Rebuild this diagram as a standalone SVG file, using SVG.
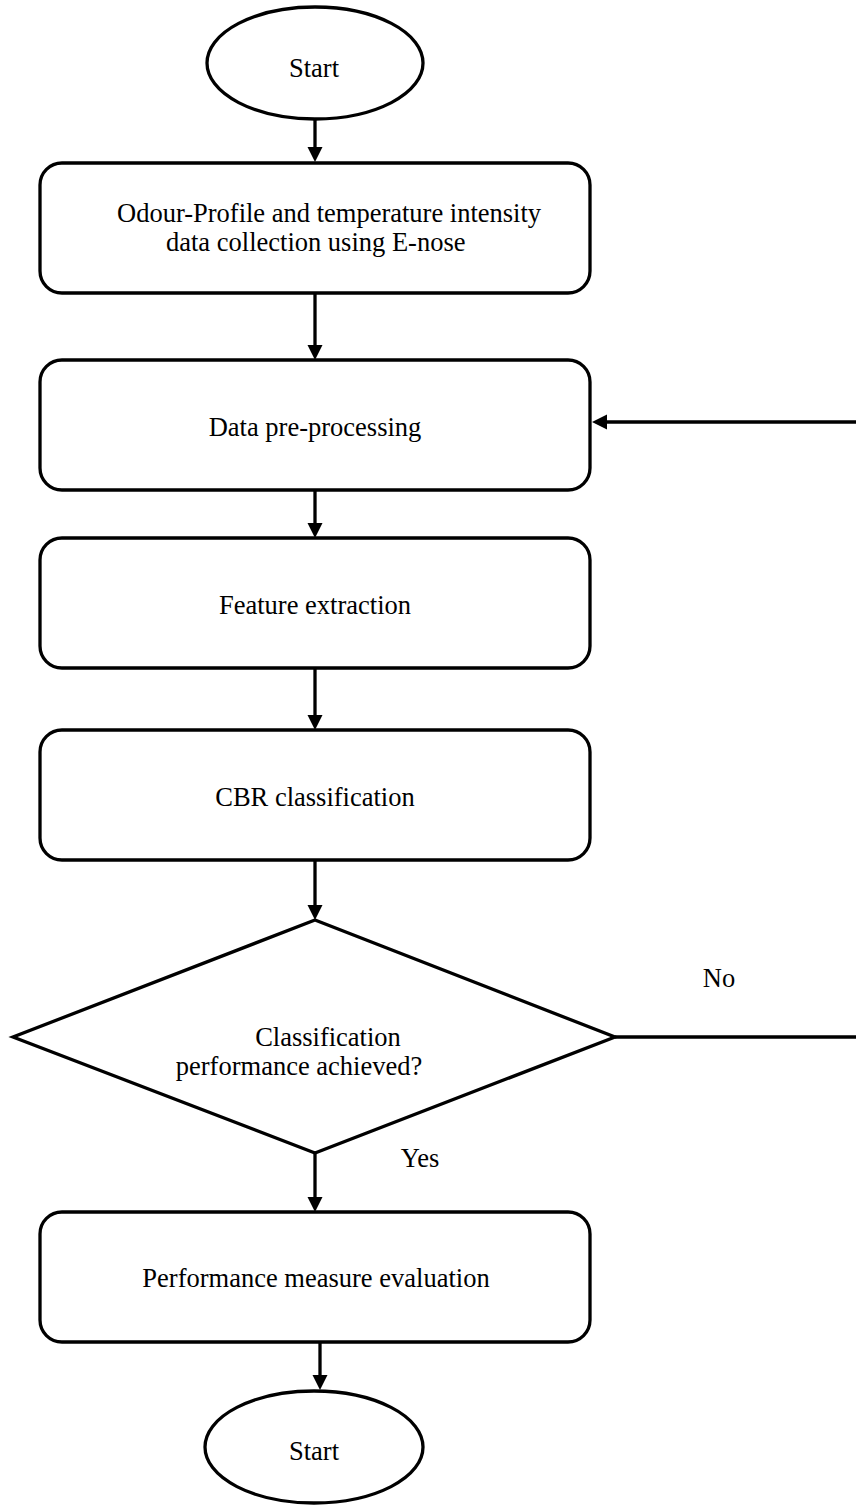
<svg xmlns="http://www.w3.org/2000/svg" width="856" height="1505" viewBox="0 0 856 1505">
  <style>
    .shape { fill: #ffffff; stroke: #000000; stroke-width: 3.3; }
    .conn { fill: none; stroke: #000000; stroke-width: 3.3; }
    .lbl { font-family: "Liberation Serif", "Times New Roman", serif; font-size: 26.5px; fill: #000000; }
    .mid { text-anchor: middle; }
  </style>
  <defs>
    <marker id="arrow" markerUnits="userSpaceOnUse" markerWidth="16" markerHeight="16" refX="10" refY="7.5" orient="auto">
      <path d="M0,0 L15,7.5 L0,15 Z" fill="#000000"/>
    </marker>
  </defs>
  <rect width="856" height="1505" fill="#ffffff"/>

  <g id="connectors">
    <path class="conn" d="M315,120 V157" marker-end="url(#arrow)"/>
    <path class="conn" d="M315,293 V355" marker-end="url(#arrow)"/>
    <path class="conn" d="M315,490 V533" marker-end="url(#arrow)"/>
    <path class="conn" d="M315,668 V725" marker-end="url(#arrow)"/>
    <path class="conn" d="M315,860 V915" marker-end="url(#arrow)"/>
    <path class="conn" d="M315,1153 V1207" marker-end="url(#arrow)"/>
    <path class="conn" d="M320,1340 V1385" marker-end="url(#arrow)"/>
    <path class="conn" d="M615,1037 H860 V422 H597" marker-end="url(#arrow)"/>
  </g>

  <g id="start">
    <ellipse class="shape" cx="315" cy="63" rx="108" ry="56"/>
    <text class="lbl mid" x="314" y="77">Start</text>
  </g>

  <g id="collect">
    <rect class="shape" x="40" y="163" width="550" height="130" rx="22"/>
    <text class="lbl" x="117" y="222">Odour-Profile and temperature intensity</text>
    <text class="lbl" x="166" y="251">data collection using E-nose</text>
  </g>

  <g id="preprocess">
    <rect class="shape" x="40" y="360" width="550" height="130" rx="22"/>
    <text class="lbl mid" x="315" y="436">Data pre-processing</text>
  </g>

  <g id="feature">
    <rect class="shape" x="40" y="538" width="550" height="130" rx="22"/>
    <text class="lbl mid" x="315" y="614">Feature extraction</text>
  </g>

  <g id="cbr">
    <rect class="shape" x="40" y="730" width="550" height="130" rx="22"/>
    <text class="lbl mid" x="315" y="806">CBR classification</text>
  </g>

  <g id="decision">
    <polygon class="shape" points="315,920 615,1037 315,1153 13,1037"/>
    <text class="lbl mid" x="328" y="1046">Classification</text>
    <text class="lbl mid" x="299" y="1075">performance achieved?</text>
  </g>

  <g id="label-no">
    <text class="lbl mid" x="719" y="987">No</text>
  </g>
  <g id="label-yes">
    <text class="lbl mid" x="420" y="1167">Yes</text>
  </g>

  <g id="evaluate">
    <rect class="shape" x="40" y="1212" width="550" height="130" rx="22"/>
    <text class="lbl mid" x="316" y="1287">Performance measure evaluation</text>
  </g>

  <g id="end">
    <ellipse class="shape" cx="314" cy="1447" rx="109" ry="56"/>
    <text class="lbl mid" x="314" y="1460">Start</text>
  </g>
</svg>
